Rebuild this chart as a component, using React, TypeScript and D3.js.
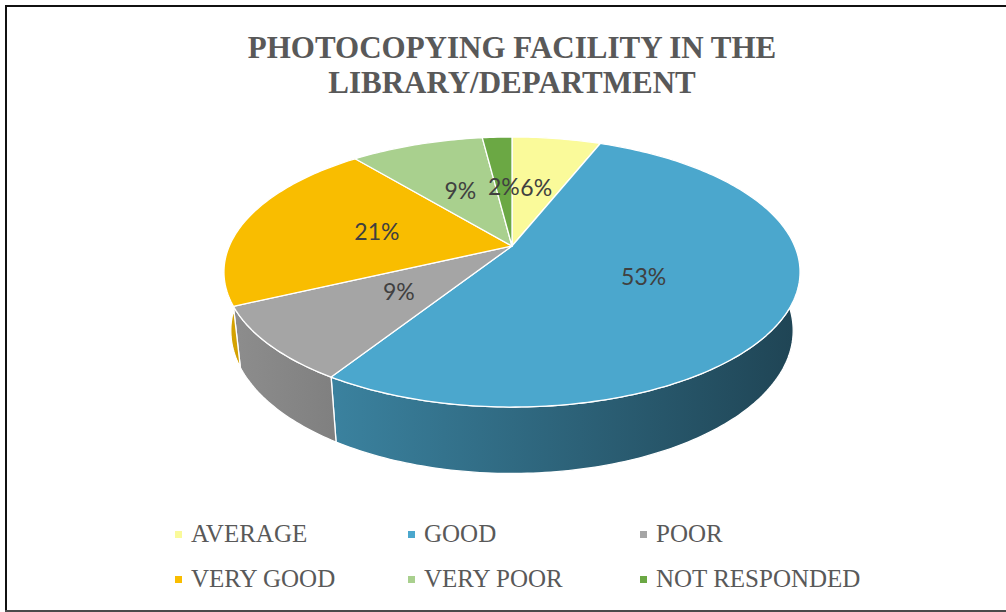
import React from "react";
import * as d3 from "d3";

const titleLines = ["PHOTOCOPYING FACILITY IN THE", "LIBRARY/DEPARTMENT"];
const categories = ["AVERAGE", "GOOD", "POOR", "VERY GOOD", "VERY POOR", "NOT RESPONDED"];
const values = [6, 53, 9, 21, 9, 2];
const valueLabels = ["6%", "53%", "9%", "21%", "9%", "2%"];
const colors = ["#FAFA9A", "#4BA7CD", "#A5A5A5", "#F9BD00", "#A9D08E", "#6BA844"];

const W = 1006;
const H = 612;

// perspective projection of a tilted disk
const CX = 512;
const CY = 246;
const SIN = 0.46;
const COS = Math.sqrt(1 - SIN * SIN);
const DIST = 4.61;
const K = 1303;
const THICK = 0.235;

function proj(theta: number, r: number, y: number): [number, number] {
  const x3 = r * Math.sin(theta);
  const z3 = -r * Math.cos(theta);
  const depth = DIST - y * SIN - z3 * COS;
  const sx = CX + (K * x3) / depth;
  const sy = CY - (K * (y * COS - z3 * SIN)) / depth;
  return [sx, sy];
}

function arcPoints(a0: number, a1: number, y: number): [number, number][] {
  const n = Math.max(2, Math.ceil(((a1 - a0) * 180) / Math.PI));
  const pts: [number, number][] = [];
  for (let i = 0; i <= n; i++) {
    const t = a0 + ((a1 - a0) * i) / n;
    pts.push(proj(t, 1, y));
  }
  return pts;
}

function shade(hex: string, f: number): string {
  const c = d3.rgb(hex);
  return d3.rgb(c.r * f, c.g * f, c.b * f).formatHex();
}

export default function App() {
  const pie = d3
    .pie<number>()
    .sort(null)
    .value((d) => d)
    .startAngle(0)
    .endAngle(2 * Math.PI);
  const arcs = pie(values);
  const line = d3.line<[number, number]>().x((d) => d[0]).y((d) => d[1]);

  const walls = arcs.map((a, i) => {
    const top = arcPoints(a.startAngle, a.endAngle, 0);
    const bot = arcPoints(a.startAngle, a.endAngle, -THICK).reverse();
    return { i, d: line([...top, ...bot])! + "Z" };
  });

  const tops = arcs.map((a, i) => {
    const pts = [proj(0, 0, 0), ...arcPoints(a.startAngle, a.endAngle, 0)];
    return { i, d: line(pts)! + "Z" };
  });

  const labels = arcs.map((a, i) => {
    const mid = (a.startAngle + a.endAngle) / 2;
    const [x, y] = proj(mid, 0.5, 0);
    return { i, x, y };
  });

  const legendCols = [175, 408, 640];
  const legendRows = [542, 587];

  return (
    <svg
      width={W}
      height={H}
      style={{ position: "absolute", left: 0, top: 0 }}
      xmlns="http://www.w3.org/2000/svg"
    >
      <defs>
        {colors.map((c, i) => (
          <linearGradient key={i} id={`side${i}`} gradientUnits="userSpaceOnUse" x1={224} x2={800} y1={0} y2={0}>
            <stop offset="0" stopColor={shade(c, 0.86)} />
            <stop offset="1" stopColor={shade(c, 0.41)} />
          </linearGradient>
        ))}
      </defs>
      <rect x={0} y={0} width={W} height={H} fill="#ffffff" />
      {/* frame */}
      <line x1={5} y1={6} x2={W} y2={6} stroke="#111" strokeWidth={2} />
      <line x1={6} y1={5} x2={6} y2={H} stroke="#111" strokeWidth={2} />
      <line x1={5} y1={611} x2={W} y2={611} stroke="#4a4a4a" strokeWidth={2} />

      {titleLines.map((t, i) => (
        <text
          key={i}
          x={512}
          y={58 + i * 35}
          textAnchor="middle"
          fontFamily="'Liberation Serif', 'Times New Roman', serif"
          fontWeight="bold"
          fontSize={31}
          fill="#595959"
        >
          {t}
        </text>
      ))}

      <g>
        {walls.map((w) => (
          <path key={w.i} d={w.d} fill={`url(#side${w.i})`} stroke="#ffffff" strokeWidth={1.3} strokeLinejoin="round" />
        ))}
        {tops.map((t) => (
          <path key={t.i} d={t.d} fill={colors[t.i]} stroke="#ffffff" strokeWidth={1.3} strokeLinejoin="round" />
        ))}
        {labels.map((l) => (
          <text
            key={l.i}
            x={l.x}
            y={l.y}
            dy="0.35em"
            textAnchor="middle"
            fontFamily="Lato, 'Open Sans', sans-serif"
            fontSize={23}
            fill="#404040"
          >
            {valueLabels[l.i]}
          </text>
        ))}
      </g>

      {categories.map((c, i) => {
        const col = i % 3;
        const row = Math.floor(i / 3);
        const x = legendCols[col];
        const y = legendRows[row];
        return (
          <g key={c}>
            <rect x={x} y={y - 11} width={7} height={7} fill={colors[i]} />
            <text
              x={x + 16}
              y={y}
              fontFamily="'Liberation Serif', 'Times New Roman', serif"
              fontSize={25}
              fill="#595959"
            >
              {c}
            </text>
          </g>
        );
      })}
    </svg>
  );
}
